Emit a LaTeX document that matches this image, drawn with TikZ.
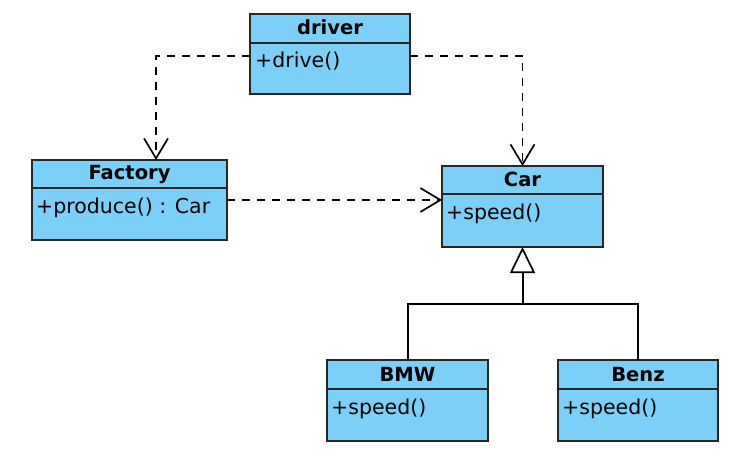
\documentclass[tikz,border=0pt]{standalone}
\usepackage{fontspec}
\setmainfont{DejaVu Sans}
\usetikzlibrary{arrows.meta,calc}
\definecolor{clsfill}{RGB}{124,207,246}
\begin{document}
\begin{tikzpicture}[x=1pt,y=-1pt,
  cls/.style={draw=black!85, line width=2pt, fill=clsfill, inner sep=0pt, outer sep=0pt, anchor=north west},
  divider/.style={draw=black!85, line width=1.8pt},
  ctitle/.style={font=\bfseries\fontsize{19.5}{22}\selectfont, anchor=base, inner sep=0pt},
  cattr/.style={font=\fontsize{20.5}{24}\selectfont, anchor=base west, inner sep=0pt},
  dep/.style={line width=1.7pt, dash pattern=on 8pt off 7pt, -{Straight Barb[length=20pt,width=24pt,line width=1.7pt]}},
  gen/.style={line width=2pt, -{Triangle[open,length=26pt,width=25pt,line width=1.7pt,fill=white]}},
  inh/.style={line width=2pt}
]
\useasboundingbox (0,0) rectangle (742,468);
\fill[white] (0,0) rectangle (742,468);

% driver
\node[cls, minimum width=160pt, minimum height=80pt] (driver) at (250,14) {};
\draw[divider] ($(driver.north west)+(0,29)$) -- ($(driver.north east)+(0,29)$);
\node[ctitle] (drivert) at ($(driver.north)+(0,21)$) {driver};
\node[cattr] (drivera) at ($(driver.north west)+(5,54)$) {+drive()};

% Factory
\node[cls, minimum width=195pt, minimum height=80pt] (factory) at (32,160) {};
\draw[divider] ($(factory.north west)+(0,28)$) -- ($(factory.north east)+(0,28)$);
\node[ctitle] (factoryt) at ($(factory.north)+(0,20)$) {Factory};
\node[cattr] (factorya) at ($(factory.north west)+(4,53)$) {+produce() : Car};

% Car
\node[cls, minimum width=161pt, minimum height=81pt] (car) at (442,166) {};
\draw[divider] ($(car.north west)+(0,28)$) -- ($(car.north east)+(0,28)$);
\node[ctitle] (cart) at ($(car.north)+(0,20)$) {Car};
\node[cattr] (cara) at ($(car.north west)+(4,53)$) {+speed()};

% BMW
\node[cls, minimum width=161pt, minimum height=81pt] (bmw) at (327,360) {};
\draw[divider] ($(bmw.north west)+(0,29)$) -- ($(bmw.north east)+(0,29)$);
\node[ctitle] (bmwt) at ($(bmw.north)+(0,21)$) {BMW};
\node[cattr] (bmwa) at ($(bmw.north west)+(4,54)$) {+speed()};

% Benz
\node[cls, minimum width=160pt, minimum height=81pt] (benz) at (558,360) {};
\draw[divider] ($(benz.north west)+(0,29)$) -- ($(benz.north east)+(0,29)$);
\node[ctitle] (benzt) at ($(benz.north)+(0,21)$) {Benz};
\node[cattr] (benza) at ($(benz.north west)+(4,54)$) {+speed()};

% dependencies
\coordinate (dl) at ($(driver.north west)+(0,42)$);
\coordinate (dr) at ($(driver.north east)+(0,42)$);
\coordinate (ftop) at ($(factory.north west)+(124,0)$);
\draw[dep] (dl) -| (ftop);
\draw[dep] (dr) -| (car.north);
\draw[dep] (factory.east) -- (factory.east -| car.west);

% generalization
\coordinate (junc) at ($(car.south)+(0,57)$);
\draw[inh] (bmw.north) |- (junc) -| (benz.north);
\draw[gen] (junc) -- (car.south);
\end{tikzpicture}
\end{document}
